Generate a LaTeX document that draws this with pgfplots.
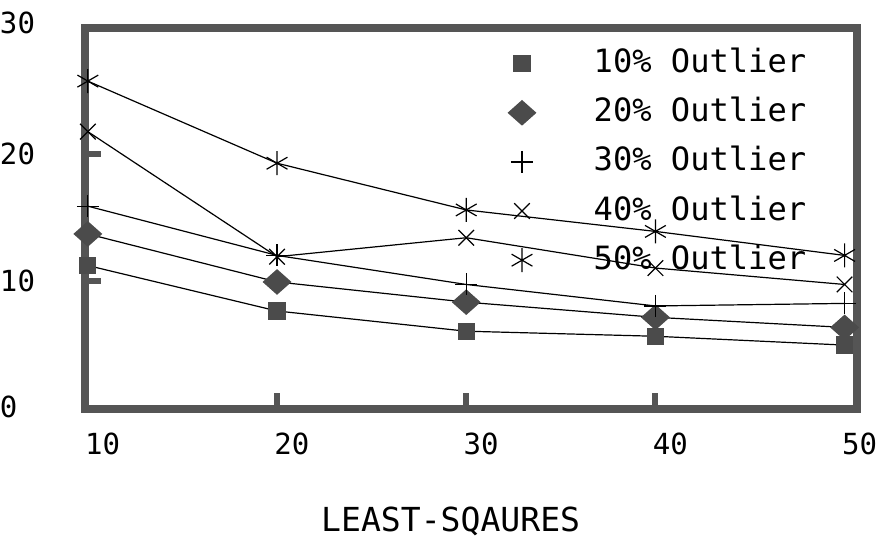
\documentclass[border=0pt]{standalone}
\usepackage{fontspec}
\setmainfont{DejaVu Sans Mono}
\usepackage{pgfplots}
\pgfplotsset{compat=1.18}
\definecolor{framegray}{RGB}{85,85,85}
\definecolor{markgray}{RGB}{75,75,75}
\begin{document}
\begin{tikzpicture}
\begin{axis}[
 scale only axis, width=385pt, height=190pt,
 xmin=9.84, xmax=50.64, ymin=-0.16, ymax=30,
 axis line style={line width=4pt, draw=framegray, line join=miter},
 tick pos=left, tick align=inside,
 xtick={20,30,40}, extra x ticks={10,50},
 ytick={10,20}, extra y ticks={0,30},
 extra x tick style={major tick length=0pt},
 extra y tick style={major tick length=0pt},
 extra y tick labels={0,\raisebox{0pt}[16.5pt][11.5pt]{30}},
 major tick length=8pt,
 major tick style={line width=3pt, draw=framegray},
 /pgf/number format/assume math mode=true,
 ticklabel style={font=\fontsize{14.5}{16}\selectfont, inner sep=0pt},
 xticklabel style={anchor=north west, xshift=-1.5pt, yshift=-11.5pt},
 yticklabel style={anchor=west, xshift=-42.5pt},
 xlabel={LEAST-SQAURES},
 xlabel style={font=\fontsize{16.5}{18}\selectfont, inner sep=0pt, text depth=2.5pt,
   at={(axis description cs:0.474,0)}, anchor=base, yshift=-61pt},
 legend style={draw=none, fill=none, inner sep=0pt, at={(rel axis cs:0.935,0.947)}, anchor=north east,
   row sep=9.5pt, column sep=29pt, font=\fontsize{16}{18}\selectfont,
   nodes={inner sep=0pt, text height=12pt, text depth=3pt}},
 legend cell align=left,
 legend image code/.code={\draw[#1,only marks] plot coordinates {(0pt,0pt)};},
 every axis plot/.append style={black, line width=0.6pt},
]
\addplot[mark=square*, mark size=4pt, mark options={fill=markgray, draw=markgray}]
 coordinates {(10,11.2) (20,7.6) (30,6.0) (40,5.6) (50,4.9)};
\addlegendentry{10\% Outlier}
\addplot[mark=diamond*, mark size=6pt, mark options={fill=markgray, draw=markgray, xscale=1.5}]
 coordinates {(10,13.7) (20,9.9) (30,8.3) (40,7.1) (50,6.3)};
\addlegendentry{20\% Outlier}
\addplot[mark=+, mark size=5.5pt]
 coordinates {(10,15.9) (20,12.0) (30,9.7) (40,8.0) (50,8.2)};
\addlegendentry{30\% Outlier}
\addplot[mark=x, mark size=5.5pt]
 coordinates {(10,21.8) (20,11.9) (30,13.4) (40,11.0) (50,9.7)};
\addlegendentry{40\% Outlier}
\addplot[mark=asterisk, mark size=6pt]
 coordinates {(10,25.8) (20,19.3) (30,15.6) (40,13.9) (50,12.0)};
\addlegendentry{50\% Outlier}
\end{axis}
\end{tikzpicture}
\end{document}
